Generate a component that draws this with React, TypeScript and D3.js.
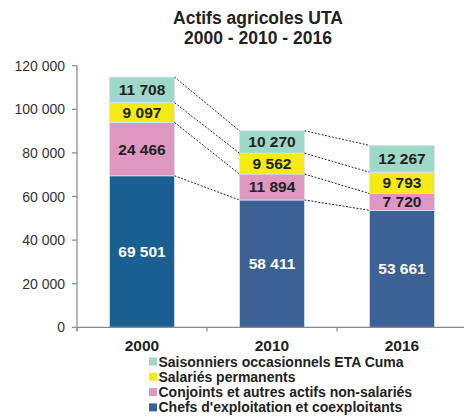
import React from "react";
import * as d3 from "d3";

const years = ["2000", "2010", "2016"];
const seriesNames = [
  "Chefs d'exploitation et coexploitants",
  "Conjoints et autres actifs non-salariés",
  "Salariés permanents",
  "Saisonniers occasionnels ETA Cuma",
];
const chefs = [69501, 58411, 53661];
const conjoints = [24466, 11894, 7720];
const salaries = [9097, 9562, 9793];
const saisonniers = [11708, 10270, 12267];
const yTicks = [0, 20000, 40000, 60000, 80000, 100000, 120000];

const colors = ["#3c6195", "#de97c0", "#f5ea14", "#9ed8c6"];
const blue2000 = "#1a5f91";
const FONT = "'Liberation Sans', Arial, sans-serif";

const fmt = (v: number) => {
  const s = String(v);
  return s.replace(/\B(?=(\d{3})+(?!\d))/g, " ");
};

export default function App() {
  const W = 464, H = 418;
  const x = d3.scaleBand().domain(years).range([77, 467]).paddingInner(0.5).paddingOuter(0.25);
  const y = d3.scaleLinear().domain([0, 120000]).range([327.3, 65.7]);
  const table = years.map((yr, i) => ({
    year: yr,
    s0: chefs[i],
    s1: conjoints[i],
    s2: salaries[i],
    s3: saisonniers[i],
  }));
  const stack = d3.stack<any>().keys(["s0", "s1", "s2", "s3"])(table);
  const bw = x.bandwidth();

  return (
    <svg width={W} height={H} style={{ position: "absolute", left: 0, top: 0, background: "#fff" }} fontFamily={FONT}>
      <rect width={W} height={H} fill="#fff" />
      <text x={258} y={24} textAnchor="middle" fontWeight="bold" fontSize={17.5} fill="#222">Actifs agricoles UTA</text>
      <text x={258} y={43.5} textAnchor="middle" fontWeight="bold" fontSize={17.5} fill="#222">2000 - 2010 - 2016</text>

      {/* bars */}
      {stack.map((layer, li) =>
        layer.map((d, i) => {
          const x0 = x(years[i])!;
          const yTop = y(d[1]);
          const yBot = y(d[0]);
          const fill = li === 0 && i === 0 ? blue2000 : colors[li];
          return (
            <g key={`${li}-${i}`}>
              <rect x={x0} y={yTop} width={bw} height={yBot - yTop} fill={fill} stroke="#d6e4ee" strokeWidth={0.8} />
              <text
                x={x0 + bw / 2}
                y={(yTop + yBot) / 2 + 5.5}
                textAnchor="middle"
                fontWeight="bold"
                fontSize={15.5}
                fill={li === 0 ? "#fff" : "#222"}
              >
                {fmt(d[1] - d[0])}
              </text>
            </g>
          );
        })
      )}

      {/* connectors */}
      {stack.map((layer, li) =>
        layer.slice(0, -1).map((d, i) => {
          const nx = layer[i + 1];
          return (
            <line
              key={`c-${li}-${i}`}
              x1={x(years[i])! + bw}
              y1={y(d[1])}
              x2={x(years[i + 1])!}
              y2={y(nx[1])}
              stroke="#111"
              strokeWidth={0.9}
              strokeDasharray="2,1.5"
            />
          );
        })
      )}

      {/* y axis */}
      <line x1={77} y1={65.7} x2={77} y2={331} stroke="#888" strokeWidth={1.2} />
      {yTicks.map((t) => (
        <g key={t}>
          <line x1={72} x2={77} y1={y(t)} y2={y(t)} stroke="#888" strokeWidth={1.2} />
          <text x={65} y={y(t) + 5} textAnchor="end" fontSize={14} fill="#333">{fmt(t)}</text>
        </g>
      ))}

      {/* x axis */}
      <line x1={77} y1={327.3} x2={W} y2={327.3} stroke="#888" strokeWidth={1.2} />
      {years.map((yr, i) => (
        <g key={yr}>
          <line x1={x(yr)! - bw / 2} x2={x(yr)! - bw / 2} y1={327.3} y2={331.5} stroke="#888" strokeWidth={1.2} />
          <text x={x(yr)! + bw / 2} y={351} textAnchor="middle" fontWeight="bold" fontSize={15.5} fill="#222">{yr}</text>
        </g>
      ))}

      {/* legend */}
      {[3, 2, 1, 0].map((si, k) => (
        <g key={si} transform={`translate(149, ${361.5 + k * 15.3})`}>
          <rect x={0} y={-4} width={8} height={8} fill={colors[si]} />
          <text x={9.5} y={5} fontWeight="bold" fontSize={14} fill="#222">{seriesNames[si]}</text>
        </g>
      ))}
    </svg>
  );
}
